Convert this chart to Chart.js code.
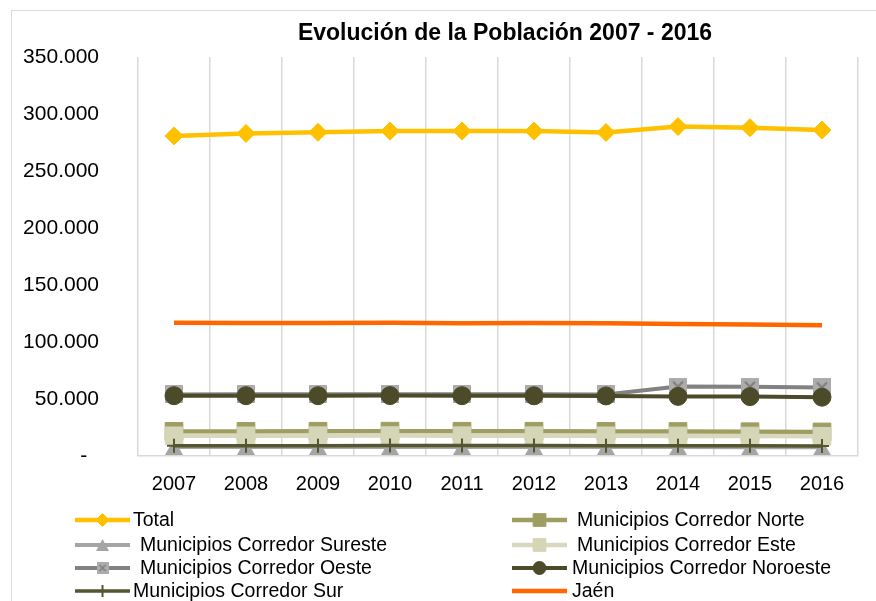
<!DOCTYPE html>
<html>
<head>
<meta charset="utf-8">
<script src="https://cdn.jsdelivr.net/npm/chart.js@4"></script>
<style>
html,body{margin:0;padding:0;background:#fff;}
#wrap{width:876px;height:601px;position:relative;}
</style>
</head>
<body>
<div id="wrap"><canvas id="c"></canvas></div>
<script>
const years = ["2007","2008","2009","2010","2011","2012","2013","2014","2015","2016"];
const total    = [280800, 283000, 283900, 285000, 285100, 285000, 283800, 289000, 288000, 285900];
const norte    = [21600, 21600, 21700, 21800, 21700, 21700, 21600, 21500, 21300, 21100];
const sureste  = [7900, 7900, 7900, 8000, 8000, 7900, 7900, 7800, 7700, 7600];
const este     = [17700, 17700, 17800, 17900, 17800, 17800, 17700, 17600, 17500, 17300];
const oeste    = [54000, 54100, 54100, 54200, 54100, 54100, 54000, 60900, 60700, 60100];
const noroeste = [52900, 52900, 52900, 53000, 52900, 52800, 52700, 52300, 52100, 51600];
const sur      = [9100, 9100, 9100, 9200, 9200, 9200, 9100, 9000, 8900, 8800];
const jaen     = [116800, 116600, 116700, 116800, 116400, 116600, 116500, 115800, 115400, 114700];
const seriesNames = ["Total","Municipios Corredor Norte","Municipios Corredor Sureste","Municipios Corredor Este",
  "Municipios Corredor Oeste","Municipios Corredor Noroeste","Municipios Corredor Sur","Jaén"];
const yTicks = [0, 50000, 100000, 150000, 200000, 250000, 300000, 350000];
const chartTitle = "Evolución de la Población 2007 - 2016";

const FONT = "'Liberation Sans', Arial, sans-serif";

function markerCanvas(w, h, draw) {
  const c = document.createElement('canvas');
  c.width = w; c.height = h;
  const g = c.getContext('2d');
  draw(g, w, h);
  return c;
}
const oesteMarker = markerCanvas(18, 18, (g, w, h) => {
  g.fillStyle = '#ADABAB'; g.fillRect(0, 0, w, h);
  g.strokeStyle = '#7F7F7F'; g.lineWidth = 2;
  g.beginPath(); g.moveTo(4, 4); g.lineTo(w - 4, h - 4); g.moveTo(w - 4, 4); g.lineTo(4, h - 4); g.stroke();
});
const oesteMarkerSmall = markerCanvas(12, 12, (g, w, h) => {
  g.fillStyle = '#ADABAB'; g.fillRect(0, 0, w, h);
  g.strokeStyle = '#7F7F7F'; g.lineWidth = 1.5;
  g.beginPath(); g.moveTo(3, 3); g.lineTo(w - 3, h - 3); g.moveTo(w - 3, 3); g.lineTo(3, h - 3); g.stroke();
});
function triMarker(w, h) {
  return markerCanvas(w, h, (g) => {
    g.fillStyle = '#A5A5A5';
    g.beginPath(); g.moveTo(w / 2, 0); g.lineTo(w, h); g.lineTo(0, h); g.closePath(); g.fill();
  });
}
const surTri = triMarker(18, 16);
const surTriSmall = triMarker(13, 12);

const styles = [
  {color:'#FFC000', fill:'#FFC000', width:4.5, style:'rectRot', radius:9, lgRadius:6.5},
  {color:'#9E9E62', fill:'#9E9E62', width:4.5, style:'rect', radius:12.5, lgRadius:9},
  {color:'#A5A5A5', fill:'#A5A5A5', width:4, style:surTri, radius:9, lgStyle:surTriSmall, lgRadius:6.5},
  {color:'#D8D8BF', fill:'#D5D5B8', width:4.5, style:'rect', radius:12.5, lgRadius:9},
  {color:'#828282', fill:'#ADABAB', width:4, style:oesteMarker, radius:9, lgStyle:oesteMarkerSmall, lgRadius:6},
  {color:'#4B4B29', fill:'#4B4B29', width:4, style:'circle', radius:9, lgRadius:6.5},
  {color:'#54562F', fill:'#54562F', width:3.5, style:'cross', radius:7, lgRadius:6, pbw:2},
  {color:'#FF6600', fill:'#FF6600', width:4.5, style:'circle', radius:0, lgRadius:0}
];
const values = [total, norte, sureste, este, oeste, noroeste, sur, jaen];

const datasets = values.map((v, i) => ({
  label: seriesNames[i],
  data: v,
  borderColor: styles[i].color,
  backgroundColor: styles[i].fill,
  borderWidth: styles[i].width,
  pointStyle: styles[i].style,
  pointRadius: styles[i].radius,
  pointHoverRadius: styles[i].radius,
  pointBackgroundColor: styles[i].fill,
  pointBorderColor: styles[i].style === 'cross' ? styles[i].color : styles[i].fill,
  pointBorderWidth: styles[i].pbw || 1,
  tension: 0,
  fill: false,
  order: values.length - i,
  clip: 20
}));

function fmt(v) {
  if (v === 0) return '-  ';
  return v.toString().replace(/\B(?=(\d{3})+(?!\d))/g, '.');
}

const legendLayout = {
  colX: [75, 512], sampleW: 55, rowY: [520, 545, 568, 591],
  textGap: [3, 10, 10, 10, 10, 5, 3, 5]
};

const framePlugin = {
  id: 'frameTitle',
  beforeDraw(chart) {
    const ctx = chart.ctx;
    ctx.save();
    ctx.fillStyle = '#fff';
    ctx.fillRect(0, 0, chart.width, chart.height);
    ctx.strokeStyle = '#D9D9D9';
    ctx.lineWidth = 1;
    ctx.strokeRect(11.5, 10.5, chart.width + 20, chart.height + 20);
    ctx.restore();
  },
  afterDraw(chart) {
    const ctx = chart.ctx;
    const a = chart.chartArea;
    ctx.save();
    ctx.font = 'bold 23px ' + FONT;
    ctx.fillStyle = '#000';
    ctx.textAlign = 'center';
    ctx.textBaseline = 'middle';
    ctx.fillText(chartTitle, (a.left + a.right) / 2 + 7, 34);
    ctx.restore();
  }
};

const legendPlugin = {
  id: 'excelLegend',
  afterDraw(chart) {
    const ctx = chart.ctx;
    ctx.save();
    ctx.font = '19.5px ' + FONT;
    ctx.textBaseline = 'middle';
    chart.data.datasets.forEach((ds, i) => {
      const col = i % 2, row = Math.floor(i / 2);
      const x0 = legendLayout.colX[col], y = legendLayout.rowY[row];
      const s = styles[i];
      ctx.strokeStyle = s.color;
      ctx.lineWidth = s.width;
      ctx.beginPath();
      ctx.moveTo(x0, y); ctx.lineTo(x0 + legendLayout.sampleW, y);
      ctx.stroke();
      if (s.lgRadius > 0) {
        ctx.fillStyle = s.fill;
        ctx.strokeStyle = s.style === 'cross' ? s.color : s.fill;
        ctx.lineWidth = s.pbw || 1;
        Chart.helpers.drawPoint(ctx, {
          pointStyle: s.lgStyle || s.style,
          radius: s.lgRadius,
          rotation: 0,
          borderWidth: s.pbw || 1
        }, x0 + legendLayout.sampleW / 2, y);
      }
      ctx.fillStyle = '#000';
      ctx.fillText(ds.label, x0 + legendLayout.sampleW + legendLayout.textGap[i], y + 1);
    });
    ctx.restore();
  }
};

new Chart(document.getElementById('c'), {
  type: 'line',
  data: { labels: years, datasets },
  plugins: [framePlugin, legendPlugin],
  options: {
    responsive: true,
    maintainAspectRatio: false,
    devicePixelRatio: 1,
    animation: false,
    layout: { padding: { left: 10, right: 18, top: 57, bottom: 103 } },
    plugins: {
      legend: { display: false },
      tooltip: { enabled: false },
      title: { display: false }
    },
    scales: {
      x: {
        offset: true,
        afterFit: (scale) => { scale.height = 42; },
        grid: { display: true, offset: true, color: '#D9D9D9', lineWidth: 1.5, drawTicks: false },
        border: { display: true, color: '#D9D9D9', width: 1.5 },
        ticks: { color: '#000', font: { family: FONT, size: 20 }, padding: 16, maxRotation: 0 }
      },
      y: {
        min: 0, max: 350000,
        afterBuildTicks: (scale) => { scale.ticks = yTicks.map(v => ({ value: v })); },
        afterFit: (scale) => { scale.width = 128; },
        grid: { display: false, drawTicks: false },
        border: { display: false },
        ticks: { color: '#000', font: { family: FONT, size: 21 }, padding: 39, callback: (v) => fmt(v) }
      }
    }
  }
});
</script>
</body>
</html>
